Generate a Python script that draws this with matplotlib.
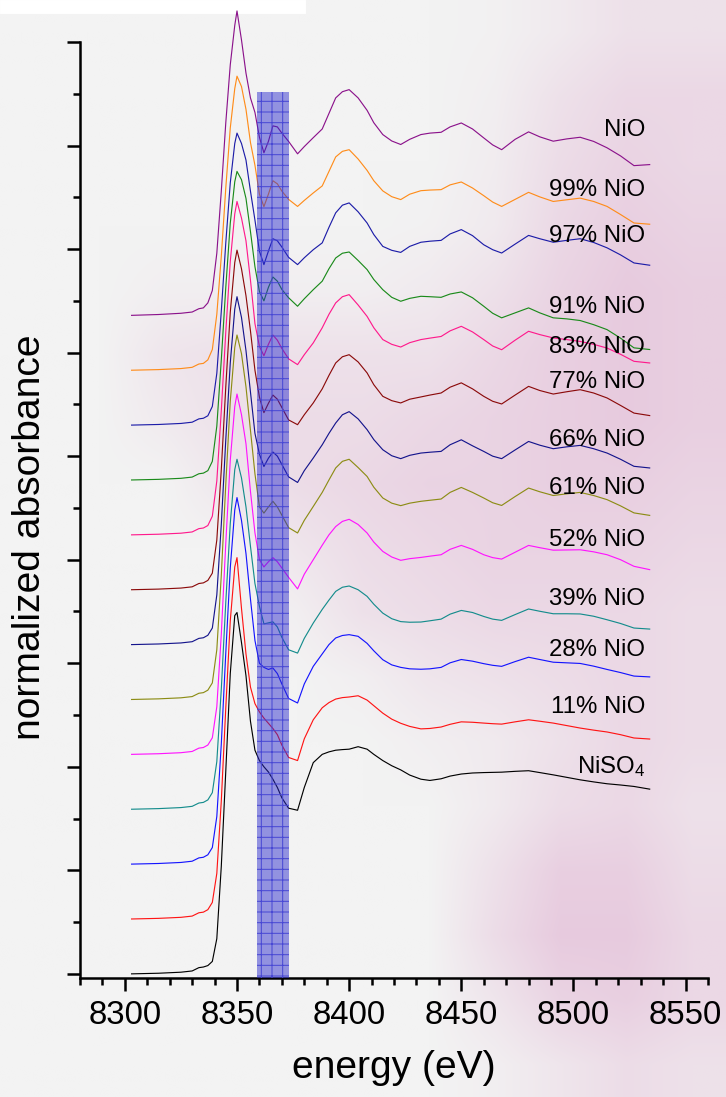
import numpy as np
import matplotlib
matplotlib.use("Agg")
import matplotlib.pyplot as plt
from matplotlib.patches import Rectangle
from matplotlib.ticker import MultipleLocator, NullFormatter

DPI = 64
W, H = 726, 1097


def pt(v):
    # pixel size -> points at this dpi
    return v * 72 / DPI


plt.rcParams['font.family'] = ['Liberation Sans', 'DejaVu Sans']
plt.rcParams['mathtext.fontset'] = 'custom'
plt.rcParams['mathtext.rm'] = 'Liberation Sans'
plt.rcParams['mathtext.it'] = 'Liberation Sans:italic'
plt.rcParams['mathtext.bf'] = 'Liberation Sans:bold'
plt.rcParams['hatch.linewidth'] = pt(1.0)
plt.rcParams['hatch.color'] = '#4848d4'

# energy grid (eV) shared by all spectra
energy = [8303, 8315, 8325, 8330, 8333, 8335, 8337, 8339, 8341, 8343, 8345, 8347,
          8349, 8350, 8352, 8354, 8356, 8358, 8360, 8362, 8364, 8366, 8368, 8370,
          8373, 8377, 8380, 8384, 8388, 8391, 8394, 8397, 8400, 8404, 8408, 8411,
          8415, 8419, 8423, 8427, 8432, 8436, 8441, 8445, 8450, 8455, 8460, 8464,
          8468, 8474, 8480, 8485, 8491, 8497, 8503, 8509, 8515, 8521, 8527, 8534]

# normalized absorbance, top spectrum first
nio = [0.0, 0.004, 0.010, 0.016, 0.032, 0.036, 0.060,
       0.12, 0.30, 0.60, 0.93, 1.21, 1.40, 1.47,
       1.33, 1.17, 1.05, 0.98, 0.86, 0.785, 0.84, 0.915, 0.91, 0.88, 0.84,
       0.78, 0.815, 0.858, 0.90, 0.975, 1.05, 1.08, 1.09, 1.05, 0.99, 0.93, 0.873,
       0.842, 0.825, 0.85, 0.873, 0.88, 0.884, 0.91, 0.929, 0.90, 0.857, 0.823, 0.80,
       0.85, 0.886, 0.862, 0.841, 0.852, 0.86, 0.84, 0.809, 0.77, 0.723, 0.728]
nio99 = [0.0, 0.003, 0.008, 0.014, 0.030, 0.033, 0.050,
         0.10, 0.27, 0.55, 0.88, 1.17, 1.36, 1.42,
         1.37, 1.26, 1.10, 0.99, 0.85, 0.79, 0.85, 0.915, 0.90, 0.865, 0.825,
         0.791, 0.82, 0.856, 0.89, 0.96, 1.03, 1.057, 1.065, 1.02, 0.965, 0.915, 0.866,
         0.838, 0.824, 0.85, 0.867, 0.87, 0.872, 0.895, 0.909, 0.88, 0.843, 0.812, 0.791,
         0.825, 0.859, 0.837, 0.815, 0.823, 0.831, 0.815, 0.791, 0.752, 0.711, 0.705]
nio97 = [0.0, 0.003, 0.008, 0.014, 0.030, 0.033, 0.045,
         0.09, 0.25, 0.55, 0.88, 1.17, 1.36, 1.41,
         1.36, 1.28, 1.13, 0.99, 0.84, 0.775, 0.84, 0.90, 0.89, 0.86, 0.81,
         0.775, 0.808, 0.847, 0.88, 0.955, 1.025, 1.062, 1.073, 1.03, 0.976, 0.92, 0.863,
         0.844, 0.834, 0.863, 0.883, 0.888, 0.892, 0.923, 0.944, 0.915, 0.871, 0.847, 0.831,
         0.874, 0.916, 0.90, 0.883, 0.892, 0.90, 0.882, 0.856, 0.822, 0.783, 0.772]
nio91 = [0.0, 0.003, 0.008, 0.014, 0.030, 0.033, 0.045,
         0.09, 0.26, 0.58, 0.93, 1.24, 1.44, 1.49,
         1.45, 1.36, 1.20, 1.03, 0.91, 0.865, 0.93, 0.98, 0.96, 0.92, 0.88,
         0.839, 0.875, 0.919, 0.96, 1.02, 1.072, 1.095, 1.101, 1.06, 1.016, 0.968, 0.919,
         0.882, 0.863, 0.877, 0.887, 0.885, 0.882, 0.898, 0.908, 0.88, 0.839, 0.805, 0.783,
         0.807, 0.831, 0.807, 0.783, 0.778, 0.770, 0.75, 0.726, 0.685, 0.638, 0.630]
nio83 = [0.0, 0.003, 0.008, 0.014, 0.030, 0.033, 0.045,
         0.09, 0.26, 0.60, 0.98, 1.32, 1.55, 1.61,
         1.53, 1.42, 1.23, 1.02, 0.91, 0.865, 0.92, 0.965, 0.94, 0.90, 0.85,
         0.822, 0.87, 0.927, 1.00, 1.065, 1.12, 1.15, 1.16, 1.11, 1.055, 1.0, 0.943,
         0.92, 0.907, 0.928, 0.943, 0.95, 0.958, 0.985, 1.007, 0.98, 0.943, 0.912, 0.894,
         0.94, 0.983, 0.967, 0.951, 0.943, 0.934, 0.92, 0.902, 0.872, 0.838, 0.830]
nio77 = [0.0, 0.003, 0.008, 0.014, 0.030, 0.033, 0.045,
         0.08, 0.24, 0.58, 0.98, 1.34, 1.58, 1.64,
         1.55, 1.42, 1.25, 1.06, 0.93, 0.855, 0.90, 0.94, 0.92, 0.88, 0.82,
         0.797, 0.845, 0.902, 0.97, 1.035, 1.095, 1.125, 1.135, 1.10, 1.047, 0.99, 0.934,
         0.913, 0.902, 0.92, 0.931, 0.94, 0.95, 0.978, 0.999, 0.97, 0.934, 0.91, 0.897,
         0.94, 0.982, 0.962, 0.945, 0.956, 0.966, 0.95, 0.926, 0.89, 0.853, 0.841]
nio66 = [0.0, 0.003, 0.008, 0.014, 0.030, 0.033, 0.045,
         0.08, 0.24, 0.58, 0.99, 1.36, 1.62, 1.68,
         1.58, 1.42, 1.22, 1.02, 0.92, 0.86, 0.90, 0.93, 0.91, 0.87, 0.81,
         0.783, 0.84, 0.901, 0.965, 1.02, 1.07, 1.11, 1.125, 1.09, 1.038, 0.99, 0.941,
         0.912, 0.898, 0.914, 0.925, 0.929, 0.933, 0.965, 0.989, 0.96, 0.933, 0.91, 0.898,
         0.94, 0.981, 0.963, 0.946, 0.955, 0.962, 0.946, 0.925, 0.895, 0.861, 0.853]
nio61 = [0.0, 0.003, 0.008, 0.014, 0.030, 0.033, 0.045,
         0.08, 0.24, 0.60, 1.04, 1.44, 1.70, 1.76,
         1.67, 1.51, 1.30, 1.09, 0.93, 0.90, 0.93, 0.957, 0.93, 0.89, 0.83,
         0.804, 0.865, 0.932, 1.00, 1.06, 1.118, 1.15, 1.16, 1.12, 1.077, 1.025, 0.973,
         0.948, 0.936, 0.948, 0.957, 0.962, 0.968, 1.0, 1.024, 1.0, 0.973, 0.95, 0.937,
         0.98, 1.021, 1.003, 0.985, 0.993, 1.0, 0.985, 0.965, 0.935, 0.901, 0.889]
nio52 = [0.0, 0.003, 0.008, 0.014, 0.030, 0.033, 0.045,
         0.08, 0.23, 0.58, 1.02, 1.42, 1.68, 1.74,
         1.64, 1.50, 1.27, 1.07, 0.94, 0.905, 0.93, 0.95, 0.93, 0.90, 0.855,
         0.799, 0.87, 0.94, 1.01, 1.06, 1.10, 1.125, 1.135, 1.11, 1.069, 1.025, 0.98,
         0.953, 0.937, 0.945, 0.951, 0.957, 0.964, 0.99, 1.009, 0.99, 0.964, 0.95, 0.943,
         0.976, 1.009, 0.998, 0.986, 0.987, 0.988, 0.978, 0.964, 0.94, 0.908, 0.892]
nio39 = [0.0, 0.003, 0.008, 0.014, 0.030, 0.033, 0.045,
         0.08, 0.23, 0.58, 1.00, 1.38, 1.64, 1.69,
         1.60, 1.46, 1.27, 1.09, 0.98, 0.895, 0.90, 0.905, 0.88, 0.83, 0.77,
         0.754, 0.825, 0.899, 0.965, 1.01, 1.052, 1.072, 1.078, 1.06, 1.028, 0.99, 0.947,
         0.92, 0.906, 0.903, 0.904, 0.91, 0.918, 0.942, 0.96, 0.95, 0.931, 0.918, 0.912,
         0.94, 0.967, 0.956, 0.944, 0.944, 0.943, 0.932, 0.915, 0.897, 0.875, 0.870]
nio28 = [0.0, 0.003, 0.008, 0.014, 0.030, 0.033, 0.045,
         0.08, 0.23, 0.58, 1.02, 1.43, 1.71, 1.77,
         1.66, 1.50, 1.28, 1.08, 0.97, 0.95, 0.94, 0.947, 0.92, 0.87, 0.80,
         0.778, 0.87, 0.955, 1.015, 1.06, 1.092, 1.104, 1.108, 1.10, 1.066, 1.03, 0.987,
         0.962, 0.95, 0.943, 0.941, 0.943, 0.95, 0.972, 0.988, 0.98, 0.968, 0.96, 0.955,
         0.978, 0.999, 0.988, 0.975, 0.972, 0.969, 0.956, 0.94, 0.925, 0.908, 0.904]
nio11 = [0.0, 0.003, 0.008, 0.014, 0.030, 0.033, 0.045,
         0.08, 0.22, 0.57, 1.02, 1.44, 1.70, 1.745,
         1.50, 1.28, 1.12, 1.04, 1.00, 0.97, 0.945, 0.92, 0.89, 0.84, 0.78,
         0.765, 0.87, 0.962, 1.02, 1.045, 1.062, 1.069, 1.072, 1.078, 1.057, 1.03, 0.994,
         0.965, 0.945, 0.93, 0.918, 0.92, 0.927, 0.94, 0.952, 0.95, 0.946, 0.943, 0.941,
         0.952, 0.962, 0.955, 0.946, 0.934, 0.922, 0.912, 0.903, 0.89, 0.874, 0.869]
niso4 = [0.0, 0.003, 0.008, 0.014, 0.030, 0.033, 0.040,
         0.06, 0.17, 0.52, 0.98, 1.45, 1.73, 1.745,
         1.60, 1.44, 1.22, 1.08, 1.03, 1.00, 0.975, 0.94, 0.90, 0.85, 0.80,
         0.79, 0.90, 1.02, 1.06, 1.072, 1.08, 1.083, 1.085, 1.097, 1.085, 1.06, 1.03,
         1.005, 0.985, 0.96, 0.94, 0.934, 0.942, 0.955, 0.965, 0.97, 0.972, 0.973, 0.974,
         0.978, 0.981, 0.972, 0.961, 0.949, 0.937, 0.927, 0.918, 0.912, 0.905, 0.892]

spectra = [nio, nio99, nio97, nio91, nio83, nio77, nio66, nio61, nio52, nio39, nio28, nio11, niso4]
names = ['NiO', '99% NiO', '97% NiO', '91% NiO', '83% NiO', '77% NiO', '66% NiO',
         '61% NiO', '52% NiO', '39% NiO', '28% NiO', '11% NiO', r'NiSO$_\mathregular{4}$']
colors = ['#8b128b', '#ff8c1a', '#1c1ca8', '#1a8a1a', '#ff1a8c', '#8b0a0a', '#14148c',
          '#8c8c14', '#ff14ff', '#148c8c', '#1414ff', '#ff1414', '#000000']
label_y = [4.048, 3.755, 3.533, 3.192, 2.999, 2.829, 2.547, 2.319, 2.064, 1.783, 1.533, 1.259, 0.970]
step = 0.265            # vertical offset between spectra
band = (8359.1, 8373.3)  # highlighted energy window
band_top = 4.26

# soft pink haze behind the plot (rows top to bottom)
haze_rows = [
    [0, 0, 0, 0, 0, 0, 0, 0.05, 0.2, 0.4, 0.4],
    [0, 0, 0, 0, 0, 0, 0, 0.1, 0.4, 0.6, 0.6],
    [0, 0, 0, 0, 0, 0, 0, 0.15, 0.5, 0.7, 0.6],
    [0, 0, 0, 0, 0, 0, 0.05, 0.2, 0.6, 0.8, 0.7],
    [0, 0, 0.1, 0.1, 0.1, 0.1, 0.2, 0.4, 0.7, 0.9, 0.8],
    [0, 0, 0.3, 0.4, 0.4, 0.4, 0.4, 0.6, 0.8, 0.9, 0.8],
    [0, 0, 0.2, 0.4, 0.5, 0.5, 0.6, 0.7, 0.8, 0.9, 0.8],
    [0, 0, 0, 0.3, 0.5, 0.6, 0.7, 0.7, 0.8, 0.8, 0.7],
    [0, 0, 0, 0, 0.3, 0.5, 0.6, 0.7, 0.7, 0.7, 0.6],
    [0, 0, 0, 0, 0.1, 0.4, 0.5, 0.6, 0.6, 0.6, 0.5],
    [0, 0, 0, 0, 0, 0.1, 0.3, 0.4, 0.5, 0.6, 0.5],
    [0, 0, 0, 0, 0, 0, 0.1, 0.2, 0.4, 0.6, 0.5],
    [0, 0, 0, 0, 0, 0, 0, 0.2, 0.5, 0.6, 0.4],
    [0, 0, 0, 0, 0, 0, 0, 0.4, 0.8, 0.8, 0.5],
    [0, 0, 0, 0, 0, 0, 0, 0.5, 0.9, 0.9, 0.6],
    [0, 0, 0, 0, 0, 0, 0, 0.3, 0.7, 0.8, 0.6],
    [0, 0, 0, 0, 0, 0, 0, 0.1, 0.3, 0.5, 0.4],
]

fig = plt.figure(figsize=(W / DPI, H / DPI), dpi=DPI)
fig.patch.set_facecolor('#f3f3f3')

# background layer
bg = fig.add_axes([0, 0, 1, 1], zorder=-1)
haze = np.array(haze_rows)[..., None]
base = np.array([243, 243, 243]) / 255
pink = np.array([230, 198, 220]) / 255
bg.imshow(base + haze * (pink - base), extent=[0, 1, 0, 1], aspect='auto',
          interpolation='bilinear')
bg.add_patch(Rectangle((0, 1 - 13 / H), 305 / W, 13 / H, color='white'))
bg.set_xlim(0, 1)
bg.set_ylim(0, 1)
bg.axis('off')

ax = fig.add_axes([80 / W, 1 - 978 / H, (708 - 80) / W, (978 - 42) / H])
ax.set_facecolor('none')
ax.set_xlim(8280, 8560)
ax.set_ylim(-0.02, 4.5)

n = len(spectra)
for k, (vals, col) in enumerate(zip(spectra, colors)):
    off = (n - 1 - k) * step
    ax.plot(energy, np.array(vals) + off, color=col, lw=pt(1.15), clip_on=False, zorder=2)

ax.add_patch(Rectangle((band[0], -0.02), band[1] - band[0], band_top + 0.02,
                       facecolor=(0.16, 0.16, 0.80, 0.48), edgecolor='#4848d4',
                       lw=0, hatch='+', zorder=3))

for name, y in zip(names, label_y):
    ax.text(8532, y, name, ha='right', va='baseline', fontsize=pt(24), color='black')

for s in ['top', 'right']:
    ax.spines[s].set_visible(False)
for s in ['left', 'bottom']:
    ax.spines[s].set_linewidth(pt(2.5))

ax.xaxis.set_major_locator(MultipleLocator(50))
ax.xaxis.set_minor_locator(MultipleLocator(10))
ax.yaxis.set_major_locator(MultipleLocator(0.5))
ax.yaxis.set_minor_locator(MultipleLocator(0.25))
ax.yaxis.set_major_formatter(NullFormatter())
ax.tick_params(which='major', length=pt(13), width=pt(2.5), direction='out',
               labelsize=pt(33), pad=pt(9))
ax.tick_params(which='minor', length=pt(7), width=pt(2.5), direction='out')

fig.text(394 / W, 1 - 1068 / H, 'energy (eV)', ha='center', va='center', fontsize=pt(39))
fig.text(30 / W, 1 - 537 / H, 'normalized absorbance', ha='center', va='center',
         rotation=90, fontsize=pt(39))

fig.savefig('out.png', dpi=DPI, facecolor=fig.get_facecolor())
